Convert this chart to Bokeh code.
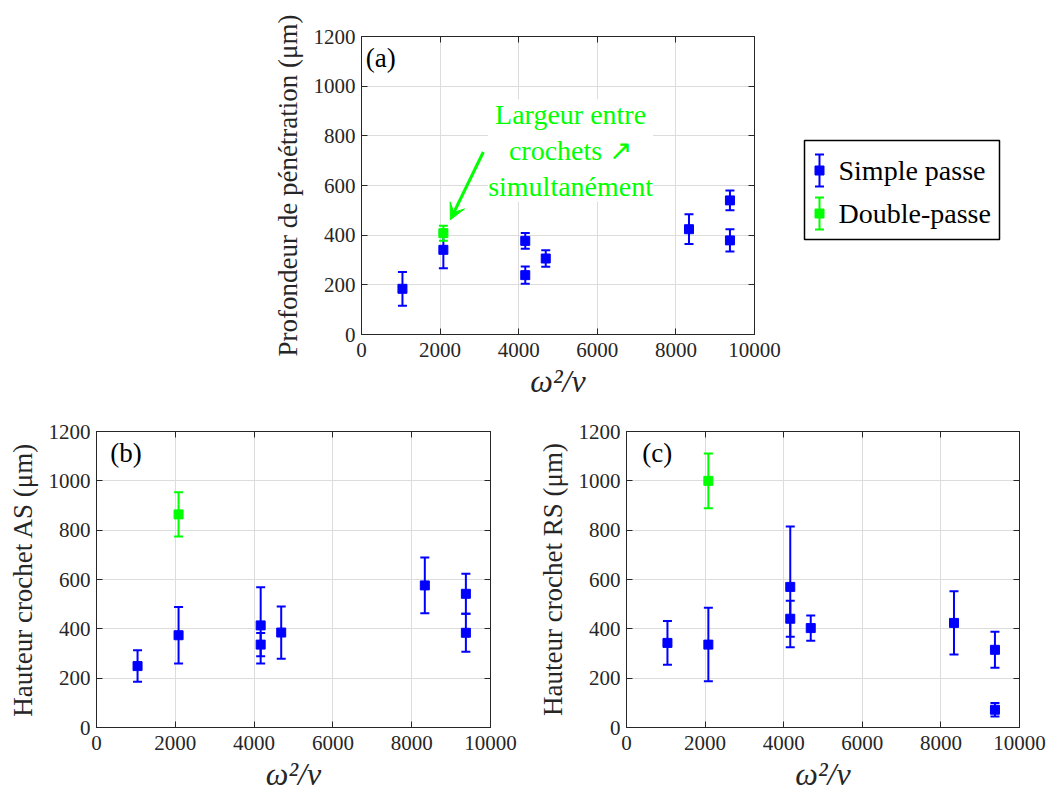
from bokeh.plotting import figure
from bokeh.layouts import column, row
from bokeh.models import Label, Arrow, VeeHead, LinearAxis, Range1d, FixedTicker
from bokeh.core.properties import value
from bokeh.embed import file_html
from bokeh.resources import INLINE

# ---------------- data ----------------
x_simple = [1042, 2083, 4167, 4167, 4688, 8333, 9375, 9375]
x_double = [2083]

pen_simple = [184, 341, 377, 239, 306, 424, 540, 379]
pen_simple_err = [68, 74, 32, 35, 33, 60, 40, 45]
pen_double = [408]
pen_double_err = [30]

as_simple = [249, 374, 414, 336, 385, 576, 542, 384]
as_simple_err = [64, 115, 155, 47, 106, 113, 81, 77]
as_double = [864]
as_double_err = [90]

rs_simple = [343, 336, 570, 441, 403, 424, 315, 72]
rs_simple_err = [89, 149, 245, 73, 51, 128, 73, 27]
rs_double = [1000]
rs_double_err = [111]

x_ticks = [0, 2000, 4000, 6000, 8000, 10000]
y_ticks = [0, 200, 400, 600, 800, 1000, 1200]
legend_labels = ["Simple passe", "Double-passe"]
series_colors = ["#0000ff", "#00ff00"]

FONT = "Liberation Serif"
AX = "#262626"
GRID = "#dcdcdc"


def draw_series(p, xs, ys, errs, color):
    lo = [y - e for y, e in zip(ys, errs)]
    hi = [y + e for y, e in zip(ys, errs)]
    p.segment(x0=xs, y0=lo, x1=xs, y1=hi, line_color=color, line_width=2)
    p.scatter(xs, lo, marker="dash", size=9, line_color=color, line_width=2)
    p.scatter(xs, hi, marker="dash", size=9, line_color=color, line_width=2)
    p.scatter(xs, ys, marker="square", size=9, fill_color=color,
              line_color=color, line_width=1)


def make_panel(ylabel, tag, tag_x, simple, simple_err, double, double_err,
               width, height, bl, br, bt, bb):
    p = figure(width=width, height=height, output_backend="svg",
               toolbar_location=None,
               x_range=Range1d(0, 10000), y_range=Range1d(0, 1200),
               min_border_left=bl, min_border_right=br,
               min_border_top=bt, min_border_bottom=bb)
    p.background_fill_color = "white"
    p.border_fill_color = "white"
    p.outline_line_color = AX
    p.outline_line_width = 1

    for ax in (p.xaxis[0], p.yaxis[0]):
        ax.major_label_text_font = FONT
        ax.major_label_text_font_size = "21px"
        ax.major_label_text_color = AX
        ax.axis_line_color = AX
        ax.major_tick_line_color = AX
        ax.major_tick_in = 6
        ax.major_tick_out = 0
        ax.minor_tick_line_color = None
        ax.axis_label_text_font = FONT
        ax.axis_label_text_color = AX
        ax.axis_label_text_font_style = "normal"
    p.xaxis[0].ticker = FixedTicker(ticks=x_ticks)
    p.yaxis[0].ticker = FixedTicker(ticks=y_ticks)
    p.xaxis[0].major_label_standoff = 8
    p.yaxis[0].major_label_standoff = 6
    p.xaxis[0].axis_label = "ω²/ν"
    p.xaxis[0].axis_label_text_font_style = "italic"
    p.xaxis[0].axis_label_text_font_size = "32px"
    p.xaxis[0].axis_label_standoff = 3
    p.yaxis[0].axis_label = ylabel
    p.yaxis[0].axis_label_text_font_size = "27px"
    p.yaxis[0].axis_label_standoff = 8

    for loc, tk in (("right", y_ticks), ("above", x_ticks)):
        a = LinearAxis(ticker=FixedTicker(ticks=tk), major_label_text_font_size="1px",
                       major_label_text_color=None,
                       major_tick_in=6, major_tick_out=0, major_label_standoff=0,
                       minor_tick_line_color=None, axis_line_color=AX,
                       major_tick_line_color=AX)
        p.add_layout(a, loc)

    p.xgrid.ticker = FixedTicker(ticks=x_ticks)
    p.ygrid.ticker = FixedTicker(ticks=y_ticks)
    p.grid.grid_line_color = GRID
    p.grid.grid_line_width = 1

    draw_series(p, x_simple, simple, simple_err, series_colors[0])
    draw_series(p, x_double, double, double_err, series_colors[1])

    p.add_layout(Label(x=tag_x, y=1172, text=tag, text_font=FONT,
                       text_font_size="27px", text_color="black",
                       text_baseline="top", text_align="left"))
    return p


# ---------- top panel (a) ----------
TOP_BT, TOP_FH, TOP_BB = 36, 298, 82
TOP_H = TOP_BT + TOP_FH + TOP_BB
pa = make_panel("Profondeur de pénétration (μm)", "(a)", 110,
                pen_simple, pen_simple_err, pen_double, pen_double_err,
                width=784, height=TOP_H, bl=361, br=30, bt=TOP_BT, bb=TOP_BB)

pa.add_layout(Arrow(x_start=3100, y_start=735, x_end=2260, y_end=462,
                    line_color="#00ff00", line_width=3,
                    end=VeeHead(size=16, fill_color="#00ff00",
                                line_color="#00ff00", line_width=1)))
pa.add_layout(Label(x=5320, y=741, text="Largeur entre\ncrochets ↗\nsimultanément",
                    text_font=FONT, text_font_size="28px", text_color="#00ff00",
                    text_align="center", text_baseline="middle",
                    text_line_height=1.15,
                    background_fill_color="white"))

# ---------- legend (separate figure, frame aligned with panel (a)) ----------
LG_W = 1048 - 784
lg = figure(width=LG_W, height=TOP_H, output_backend="svg", toolbar_location=None,
            x_range=Range1d(0, LG_W), y_range=Range1d(0, TOP_FH),
            x_axis_location=None, y_axis_location=None,
            min_border_left=0, min_border_right=0,
            min_border_top=TOP_BT, min_border_bottom=TOP_BB)
lg.grid.visible = False
lg.outline_line_color = None
lg.border_fill_color = "white"
box_l, box_r, box_b, box_t = 20, 215, 95, 194
lg.quad(left=[box_l], right=[box_r], bottom=[box_b], top=[box_t],
        fill_color="white", line_color="black", line_width=1.5)
for i, (lab, col) in enumerate(zip(legend_labels, series_colors)):
    yc = box_t - 30 - i * 43
    draw_series(lg, [box_l + 15], [yc], [16], col)
    lg.text(x=[box_l + 34], y=[yc], text=[lab], text_font=value(FONT),
            text_font_size="28px", text_color="black",
            text_baseline="middle", text_align="left")

# ---------- bottom panels (b) and (c) ----------
BOT_H = 796 - TOP_H - 2
pb = make_panel("Hauteur crochet AS (μm)", "(b)", 350,
                as_simple, as_simple_err, as_double, as_double_err,
                width=526, height=BOT_H, bl=96, br=36, bt=15, bb=BOT_H - 15 - 296)
pc = make_panel("Hauteur crochet RS (μm)", "(c)", 400,
                rs_simple, rs_simple_err, rs_double, rs_double_err,
                width=522, height=BOT_H, bl=100, br=29, bt=15, bb=BOT_H - 15 - 296)

layout = column(row(pa, lg), row(pb, pc), spacing=0)
open("out.html", "w").write(file_html(layout, INLINE))
